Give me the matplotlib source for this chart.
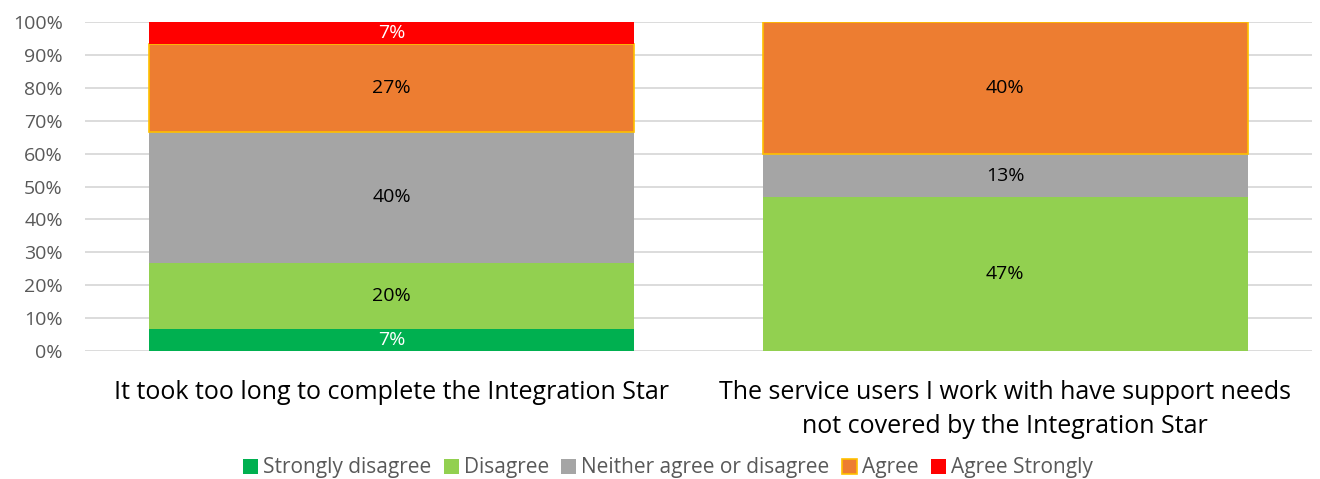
import matplotlib
matplotlib.use("Agg")
import matplotlib.pyplot as plt
import numpy as np

categories = ["It took too long to complete the Integration Star",
              "The service users I work with have support needs\nnot covered by the Integration Star"]
series_names = ["Strongly disagree", "Disagree", "Neither agree or disagree", "Agree", "Agree Strongly"]
values = {
    "Strongly disagree": [6.67, 0.0],
    "Disagree": [20.0, 46.67],
    "Neither agree or disagree": [40.0, 13.33],
    "Agree": [26.67, 40.0],
    "Agree Strongly": [6.67, 0.0],
}
colors = ["#00B050", "#92D050", "#A5A5A5", "#ED7D31", "#FF0000"]
edgecolors = [None, None, None, "#FFC000", None]
label_colors = ["white", "black", "black", "black", "white"]
yticks = [0, 10, 20, 30, 40, 50, 60, 70, 80, 90, 100]

plt.rcParams['font.family'] = ['Open Sans', 'DejaVu Sans']
fig = plt.figure(figsize=(13.2, 4.79), dpi=100)
ax = fig.add_axes([85/1320, 1-351/479, 1227/1320, 329/479])

x = np.arange(len(categories))
bottom = np.zeros(len(categories))
for name, c, ec, lc in zip(series_names, colors, edgecolors, label_colors):
    v = np.array(values[name])
    bars = ax.bar(x, v, 0.79, bottom=bottom, color=c,
                  edgecolor=ec if ec else c, linewidth=1.2 if ec else 0,
                  label=name, zorder=3)
    for xi, vi, bi in zip(x, v, bottom):
        if vi > 0:
            ax.text(xi, bi + vi / 2, f"{vi:.0f}%", ha="center", va="center",
                    color=lc, fontsize=14, zorder=4)
    bottom += v

ax.set_xlim(-0.5, 1.5)
ax.set_ylim(0, 100)
ax.set_yticks(yticks)
ax.set_yticklabels([f"{t}%" for t in yticks], color="#595959", fontsize=14)
ax.set_xticks(x)
ax.set_xticklabels(categories, fontsize=18, color="black", linespacing=1.45)
ax.tick_params(axis="both", length=0)
ax.tick_params(axis="x", pad=21)
ax.tick_params(axis="y", pad=16)
ax.grid(axis="y", color="#D9D9D9", linewidth=1.3, zorder=0)
for s in ax.spines.values():
    s.set_visible(False)

leg = fig.legend(loc="center", bbox_to_anchor=(668/1320, 1-468/479), ncol=5,
                 frameon=False, fontsize=15, handlelength=0.7, handleheight=0.7,
                 handletextpad=0.25, columnspacing=0.6)
for t in leg.get_texts():
    t.set_color("#595959")

fig.savefig("out.png", dpi=100)
